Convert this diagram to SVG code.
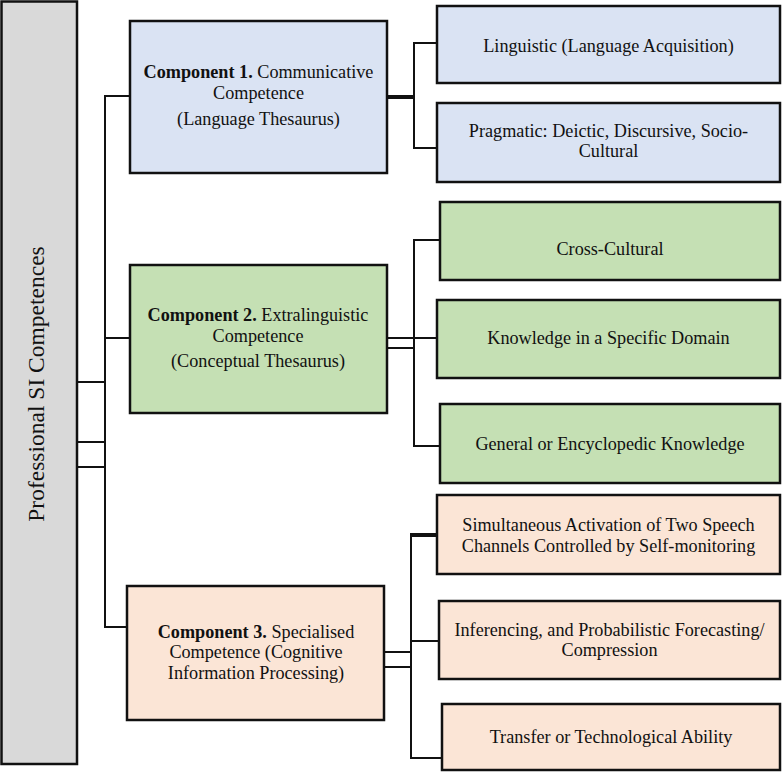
<svg xmlns="http://www.w3.org/2000/svg" width="782" height="772" viewBox="0 0 782 772">
<style>
.box{stroke:#111;stroke-width:2.5}
.root{fill:#d9d9d9}
.blue{fill:#dae3f3}
.green{fill:#c5e0b4}
.peach{fill:#fbe5d6}
text{font-family:"Liberation Serif","Times New Roman",serif;font-size:18.2px;fill:#111;text-anchor:middle}
.b{font-weight:bold}
.c line{stroke:#111;stroke-width:2}
.c line.t{stroke-width:4}
</style>
<rect width="782" height="772" fill="#fff"/>
<g class="c" id="connectors">
<line x1="77" y1="382" x2="105" y2="382"/>
<line x1="77" y1="442" x2="105" y2="442"/>
<line x1="77" y1="467" x2="105" y2="467"/>
<line x1="105" y1="95" x2="105" y2="628"/>
<line x1="104" y1="96" x2="130" y2="96"/>
<line x1="105" y1="338" x2="130" y2="338"/>
<line x1="104" y1="627" x2="127" y2="627"/>
<line class="t" x1="387" y1="97" x2="414" y2="97"/>
<line x1="414" y1="42" x2="414" y2="149"/>
<line x1="413" y1="43" x2="437" y2="43"/>
<line x1="413" y1="148" x2="437" y2="148"/>
<line x1="387" y1="338" x2="414" y2="338"/>
<line x1="387" y1="348" x2="414" y2="348"/>
<line x1="414" y1="239" x2="414" y2="447"/>
<line x1="413" y1="240" x2="440" y2="240"/>
<line x1="414" y1="338" x2="437" y2="338"/>
<line x1="413" y1="446" x2="440" y2="446"/>
<line x1="384" y1="652" x2="411" y2="652"/>
<line x1="384" y1="667" x2="411" y2="667"/>
<line x1="411" y1="533" x2="411" y2="759"/>
<line class="t" x1="410" y1="535" x2="437" y2="535"/>
<line x1="411" y1="641" x2="439" y2="641"/>
<line x1="410" y1="758" x2="442" y2="758"/>
</g>
<g id="root">
<rect class="box root" x="1.5" y="1.5" width="75.5" height="762.5"/>
<text transform="translate(44,384) rotate(-90)" style="font-size:23.5px">Professional SI Competences</text>
</g>
<g id="comp1">
<rect class="box blue" x="130" y="21" width="257" height="152"/>
<text x="258.5" y="78"><tspan class="b">Component 1.</tspan> Communicative</text>
<text x="258.5" y="99">Competence</text>
<text x="258.5" y="125">(Language Thesaurus)</text>
</g>
<g id="comp2">
<rect class="box green" x="130" y="265" width="257" height="148"/>
<text x="258" y="321"><tspan class="b">Component 2.</tspan> Extralinguistic</text>
<text x="258" y="342">Competence</text>
<text x="258" y="367">(Conceptual Thesaurus)</text>
</g>
<g id="comp3">
<rect class="box peach" x="127" y="586" width="257" height="134"/>
<text x="256" y="637.5"><tspan class="b">Component 3.</tspan> Specialised</text>
<text x="256" y="658">Competence (Cognitive</text>
<text x="256" y="678.5">Information Processing)</text>
</g>
<g id="linguistic">
<rect class="box blue" x="437" y="6" width="343" height="77"/>
<text x="608.5" y="52">Linguistic (Language Acquisition)</text>
</g>
<g id="pragmatic">
<rect class="box blue" x="437" y="103" width="343" height="79"/>
<text x="608.5" y="136.8">Pragmatic: Deictic, Discursive, Socio-</text>
<text x="608.5" y="157.2">Cultural</text>
</g>
<g id="crosscultural">
<rect class="box green" x="440" y="202" width="340" height="78"/>
<text x="610" y="255">Cross-Cultural</text>
</g>
<g id="knowledge">
<rect class="box green" x="437" y="300" width="343" height="78"/>
<text x="608.5" y="344">Knowledge in a Specific Domain</text>
</g>
<g id="general">
<rect class="box green" x="440" y="404" width="340" height="79"/>
<text x="610" y="450">General or Encyclopedic Knowledge</text>
</g>
<g id="simultaneous">
<rect class="box peach" x="437" y="495" width="343" height="79"/>
<text x="608.5" y="531.2">Simultaneous Activation of Two Speech</text>
<text x="608.5" y="551.8">Channels Controlled by Self-monitoring</text>
</g>
<g id="inferencing">
<rect class="box peach" x="439" y="601" width="341" height="78"/>
<text x="609.5" y="635.8">Inferencing, and Probabilistic Forecasting/</text>
<text x="609.5" y="656.2">Compression</text>
</g>
<g id="transfer">
<rect class="box peach" x="442" y="704" width="338" height="66"/>
<text x="611" y="743">Transfer or Technological Ability</text>
</g>
</svg>
